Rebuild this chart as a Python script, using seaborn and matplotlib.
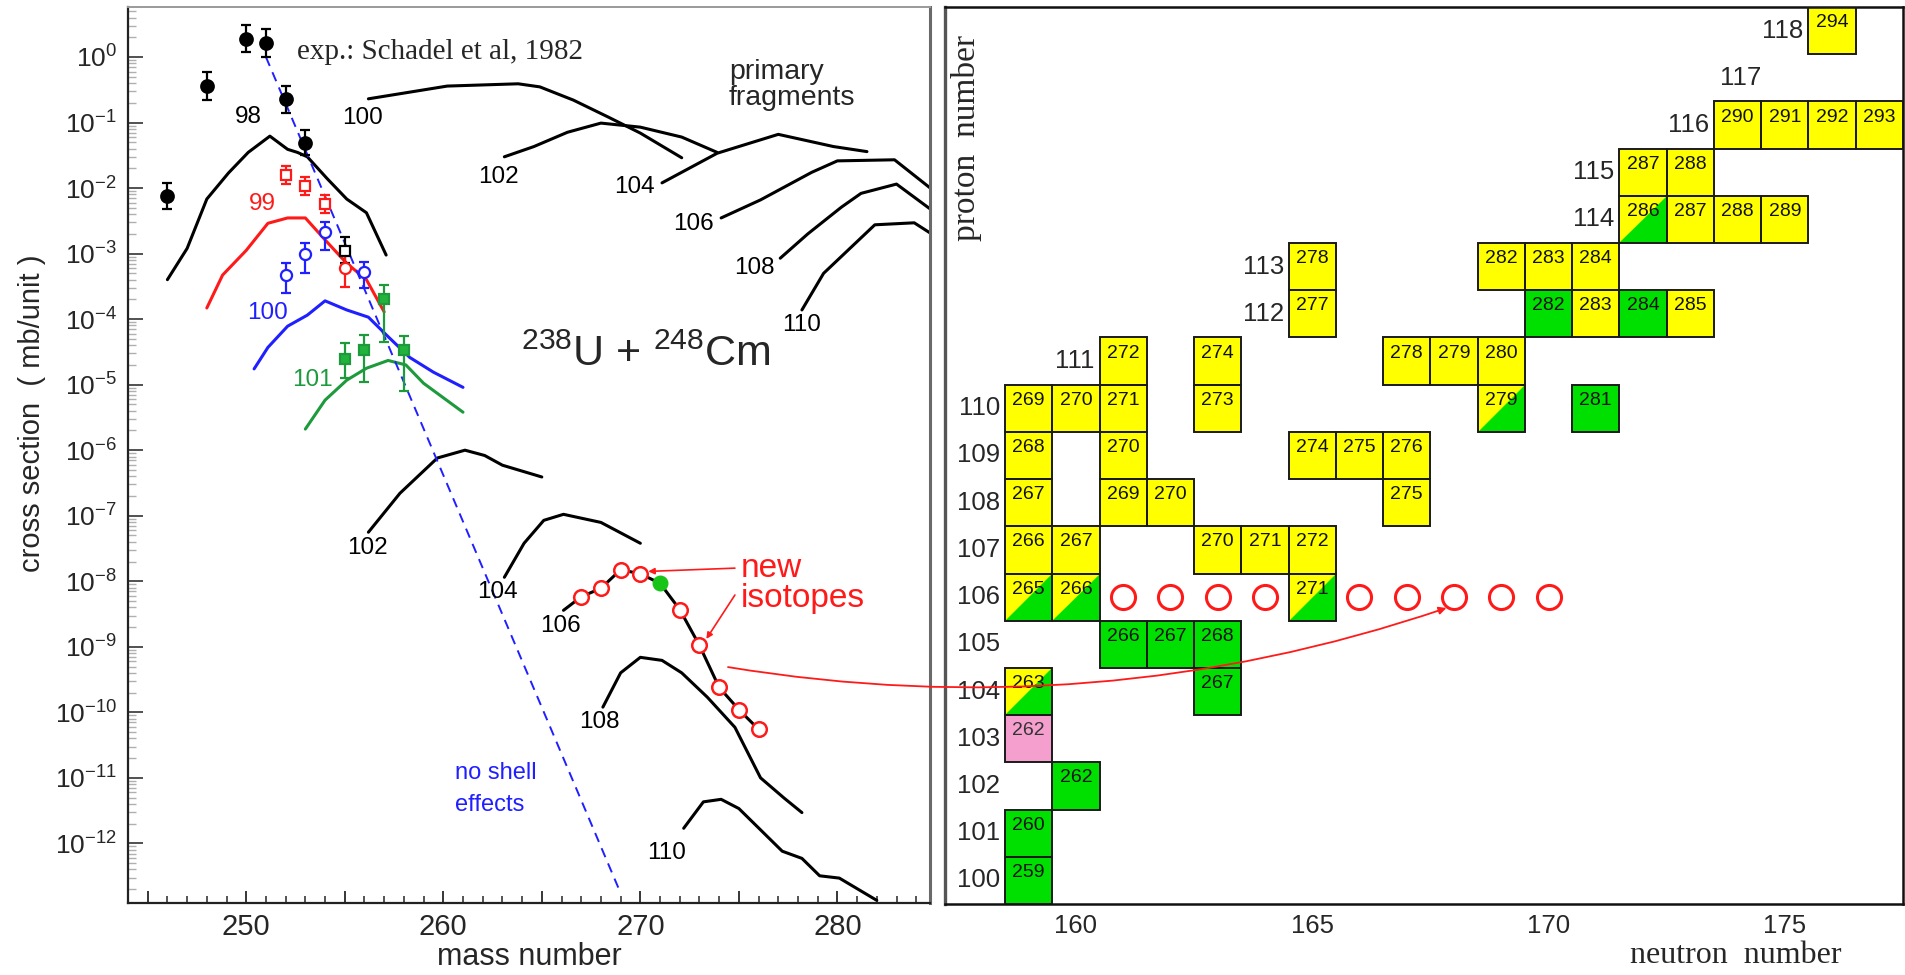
import numpy as np
import matplotlib
matplotlib.use('Agg')
import matplotlib.pyplot as plt
import seaborn as sns
from matplotlib.patches import Rectangle, Polygon, ConnectionPatch
from matplotlib.ticker import (MultipleLocator, LogLocator, FixedLocator, FuncFormatter,
                               NullFormatter)

# ---------------- left panel: cross sections (mb/unit) vs mass number ----------------
# primary fragments (upper curves)
prim100_A = [256.2, 260.2, 263.8, 264.9, 266.6, 268.4, 270.0, 272.1]
prim100_s = [0.23, 0.36, 0.39, 0.35, 0.22, 0.12, 0.069, 0.029]
prim102_A = [263.1, 264.6, 266.3, 268.0, 270.0, 272.1, 273.9]
prim102_s = [0.030, 0.043, 0.071, 0.098, 0.085, 0.060, 0.035]
prim104_A = [271.1, 273.9, 277.0, 279.8, 281.5]
prim104_s = [0.012, 0.034, 0.066, 0.043, 0.036]
prim106_A = [274.1, 276.1, 278.7, 280.0, 282.9, 285.5]
prim106_s = [3.5e-3, 6.6e-3, 1.74e-2, 2.6e-2, 2.7e-2, 6.5e-3]
prim108_A = [277.1, 278.5, 280.2, 281.2, 283.0, 285.5]
prim108_s = [8.5e-4, 2.0e-3, 5.1e-3, 8.3e-3, 1.15e-2, 3.2e-3]
prim110_A = [278.2, 279.3, 281.9, 283.9, 285.5]
prim110_s = [1.38e-4, 5.0e-4, 2.75e-3, 2.95e-3, 1.45e-3]

# calculated surviving products
z98_A = [246, 247, 248, 249.1, 250.1, 251.2, 252.1, 252.6, 253.1, 254.1, 255.1, 256.1, 257.1]
z98_s = [4.0e-4, 1.2e-3, 6.8e-3, 1.7e-2, 3.5e-2, 6.2e-2, 3.9e-2, 3.5e-2, 3.0e-2, 1.4e-2, 6.8e-3, 4.2e-3, 9.5e-4]
z99_A = [248.0, 248.8, 250.0, 251.1, 252.1, 253.0, 254.0, 255.1, 256.1, 257.0]
z99_s = [1.48e-4, 4.7e-4, 1.12e-3, 2.9e-3, 3.5e-3, 3.5e-3, 1.62e-3, 7.1e-4, 4.0e-4, 1.29e-4]
z100_A = [250.4, 251.1, 252.1, 253.1, 254.0, 255.1, 256.2, 257.2, 258.3, 259.5, 261.0]
z100_s = [1.74e-5, 3.7e-5, 7.8e-5, 1.15e-4, 1.9e-4, 1.38e-4, 1.07e-4, 5.4e-5, 2.6e-5, 1.55e-5, 9.1e-6]
z101_A = [253.0, 254.0, 255.1, 256.1, 257.2, 258.1, 259.0, 261.0]
z101_s = [2.1e-6, 5.8e-6, 1.17e-5, 1.78e-5, 2.34e-5, 2.0e-5, 1.05e-5, 3.8e-6]
z102_A = [256.2, 257.8, 259.7, 261.1, 262.1, 263.0, 265.0]
z102_s = [5.6e-8, 2.2e-7, 7.6e-7, 1.0e-6, 8.3e-7, 5.9e-7, 3.9e-7]
z104_A = [263.1, 264.1, 265.1, 266.1, 268.0, 270.0]
z104_s = [1.15e-8, 3.8e-8, 8.5e-8, 1.05e-7, 7.9e-8, 3.8e-8]
z106_A = [266.1, 267, 268, 269, 270, 271, 272, 273, 274, 275, 276]
z106_s = [3.6e-9, 5.8e-9, 7.8e-9, 1.5e-8, 1.3e-8, 9.3e-9, 3.7e-9, 1.05e-9, 2.4e-10, 1.1e-10, 5.5e-11]
z108_A = [268.1, 269.0, 270.0, 271.1, 272.1, 273.4, 274.8, 276.1, 277.3, 278.2]
z108_s = [1.2e-10, 4.0e-10, 6.9e-10, 6.2e-10, 4.0e-10, 1.7e-10, 5.9e-11, 1.0e-11, 4.9e-12, 2.95e-12]
z110_A = [272.2, 273.2, 274.1, 275.0, 277.2, 278.2, 279.1, 280.1, 282.0]
z110_s = [1.7e-12, 4.3e-12, 4.7e-12, 3.4e-12, 7.6e-13, 5.9e-13, 3.2e-13, 2.95e-13, 1.35e-13]

# new isotopes on the Z=106 curve (known one filled green)
new_A = [267, 268, 269, 270, 272, 273, 274, 275, 276]
new_s = [5.8e-9, 7.8e-9, 1.5e-8, 1.3e-8, 3.7e-9, 1.05e-9, 2.4e-10, 1.1e-10, 5.5e-11]
known_A = [271]
known_s = [9.3e-9]

# no shell effects
noshell_A = [251, 269]
noshell_s = [1.0, 1.74e-13]

# experiment, Schadel et al 1982
exp98_A = [246, 248, 250, 251, 252, 253]
exp98_s = [7.6e-3, 0.36, 1.86, 1.62, 0.23, 0.048]
exp98_lo = [4.8e-3, 0.22, 1.2, 1.0, 0.138, 0.032]
exp98_hi = [1.2e-2, 0.59, 3.1, 2.7, 0.36, 0.078]
exp98o_A = [255]
exp98o_s = [1.1e-3]
exp98o_lo = [7.1e-4]
exp98o_hi = [1.78e-3]
exp99_A = [252, 253, 254]
exp99_s = [0.016, 0.0107, 5.7e-3]
exp99_lo = [0.0117, 7.8e-3, 4.2e-3]
exp99_hi = [0.022, 0.0148, 7.8e-3]
exp99o_A = [255]
exp99o_s = [6.0e-4]
exp99o_lo = [3.1e-4]
exp99o_hi = [9.5e-4]
exp100_A = [252, 253, 254, 256]
exp100_s = [4.7e-4, 1.0e-3, 2.1e-3, 5.2e-4]
exp100_lo = [2.5e-4, 5.0e-4, 1.12e-3, 2.95e-4]
exp100_hi = [7.1e-4, 1.45e-3, 3.0e-3, 7.4e-4]
exp101_A = [255, 256, 257, 258]
exp101_s = [2.5e-5, 3.4e-5, 2.0e-4, 3.4e-5]
exp101_lo = [1.26e-5, 1.1e-5, 4.5e-5, 7.9e-6]
exp101_hi = [4.3e-5, 5.8e-5, 3.3e-4, 5.5e-5]

decades = list(range(-12, 1))

# ---------------- right panel: chart of nuclides ----------------
cell_Z = [100, 101, 102, 103, 104, 104,
          105, 105, 105,
          106, 106, 106,
          107, 107, 107, 107, 107,
          108, 108, 108, 108,
          109, 109, 109, 109, 109,
          110, 110, 110, 110, 110, 110,
          111, 111, 111, 111, 111,
          112, 112, 112, 112, 112,
          113, 113, 113, 113,
          114, 114, 114, 114,
          115, 115,
          116, 116, 116, 116,
          118]
cell_N = [159, 159, 160, 159, 159, 163,
          161, 162, 163,
          159, 160, 165,
          159, 160, 163, 164, 165,
          159, 161, 162, 167,
          159, 161, 165, 166, 167,
          159, 160, 161, 163, 169, 171,
          161, 163, 167, 168, 169,
          165, 170, 171, 172, 173,
          165, 169, 170, 171,
          172, 173, 174, 175,
          172, 173,
          174, 175, 176, 177,
          176]
cell_kind = ['g', 'g', 'g', 'p', 'd', 'g',
             'g', 'g', 'g',
             'd', 'd', 'd',
             'y', 'y', 'y', 'y', 'y',
             'y', 'y', 'y', 'y',
             'y', 'y', 'y', 'y', 'y',
             'y', 'y', 'y', 'y', 'd', 'g',
             'y', 'y', 'y', 'y', 'y',
             'y', 'g', 'y', 'g', 'y',
             'y', 'y', 'y', 'y',
             'd', 'y', 'y', 'y',
             'y', 'y',
             'y', 'y', 'y', 'y',
             'y']
new_N = [161, 162, 163, 164, 166, 167, 168, 169, 170]
new_Z = [106] * len(new_N)
row_Z = list(range(100, 119))
n_ticks = [160, 165, 170, 175]

# ---------------- style ----------------
sns.set_style('ticks')
plt.rcParams['font.family'] = ['Liberation Sans', 'DejaVu Sans']
plt.rcParams['mathtext.fontset'] = 'custom'
plt.rcParams['mathtext.rm'] = 'Liberation Sans'
plt.rcParams['mathtext.it'] = 'Liberation Sans:italic'
plt.rcParams['mathtext.bf'] = 'Liberation Sans:bold'
SERIF = ['Liberation Serif', 'DejaVu Serif']

RED = '#ff1a1a'
BLUE = '#1f1fff'
GREEN = '#1d9a3c'
YEL = '#ffff00'
GRN = '#00e000'
PINK = '#f59fcf'

fig = plt.figure(figsize=(19.05, 9.75), dpi=100)
axL = fig.add_axes([128 / 1905, 72 / 975, 802 / 1905, 896 / 975])
axR = fig.add_axes([945 / 1905, 71 / 975, 958 / 1905, 897 / 975])

# ---------------- left panel ----------------
axL.set_yscale('log')


def curve(a, s, color, lw=2.2, **kw):
    sns.lineplot(x=a, y=s, ax=axL, color=color, lw=lw, sort=False,
                 estimator=None, legend=False, **kw)


for a, s in [(prim100_A, prim100_s), (prim102_A, prim102_s), (prim104_A, prim104_s),
             (prim106_A, prim106_s), (prim108_A, prim108_s), (prim110_A, prim110_s),
             (z98_A, z98_s), (z102_A, z102_s), (z104_A, z104_s),
             (z106_A, z106_s), (z108_A, z108_s), (z110_A, z110_s)]:
    curve(a, s, 'black')
curve(z99_A, z99_s, RED)
curve(z100_A, z100_s, BLUE)
curve(z101_A, z101_s, GREEN)
curve(noshell_A, noshell_s, BLUE, lw=1.4, linestyle=(0, (5, 3.5)))


def errpts(a, s, lo, hi, color, marker, ms, mfc):
    s = np.array(s)
    yerr = [s - np.array(lo), np.array(hi) - s]
    axL.errorbar(a, s, yerr=yerr, fmt=marker, color=color, ms=ms, mfc=mfc, mec=color,
                 mew=1.6, elinewidth=1.6, capsize=3.5, capthick=1.6, zorder=5)


errpts(exp98_A, exp98_s, exp98_lo, exp98_hi, 'black', 'o', 9, 'black')
errpts(exp98o_A, exp98o_s, exp98o_lo, exp98o_hi, 'black', 's', 7, 'white')
errpts(exp99_A, exp99_s, exp99_lo, exp99_hi, RED, 's', 7, 'white')
errpts(exp99o_A, exp99o_s, exp99o_lo, exp99o_hi, RED, 'o', 8, 'white')
errpts(exp100_A, exp100_s, exp100_lo, exp100_hi, BLUE, 'o', 8, 'white')
errpts(exp101_A, exp101_s, exp101_lo, exp101_hi, GREEN, 's', 7, '#22b33c')

sns.scatterplot(x=new_A, y=new_s, ax=axL, color='white', edgecolor=RED, linewidth=1.8,
                s=110, marker='o', zorder=6, legend=False)
sns.scatterplot(x=known_A, y=known_s, ax=axL, color='#19c419', edgecolor='#19c419',
                linewidth=1.0, s=110, marker='o', zorder=6, legend=False)

axL.set_xlim(244, 284.7)
axL.set_ylim(10 ** -12.91, 10 ** 0.763)
axL.xaxis.set_major_locator(MultipleLocator(5))
axL.xaxis.set_minor_locator(MultipleLocator(1))
axL.xaxis.set_major_formatter(FuncFormatter(lambda v, p: '%d' % v if round(v) % 10 == 0 else ''))
axL.yaxis.set_major_locator(FixedLocator([10.0 ** d for d in decades]))
axL.yaxis.set_minor_locator(LogLocator(base=10, subs=np.arange(2, 10), numticks=300))
axL.yaxis.set_minor_formatter(NullFormatter())
axL.yaxis.set_major_formatter(FuncFormatter(lambda v, p: r'$10^{%d}$' % round(np.log10(v))))
axL.tick_params(axis='x', which='major', direction='in', length=9, width=1.3,
                labelsize=21, pad=7, top=False)
axL.tick_params(axis='x', which='minor', direction='in', length=5, width=1.1, top=False)
axL.tick_params(axis='y', which='major', direction='in', length=11, width=1.2,
                labelsize=19, pad=8, right=False, color='#333333')
axL.tick_params(axis='y', which='minor', direction='in', length=6, width=1.0,
                color='#b0b0b0', right=False)
for side in ['left', 'bottom']:
    axL.spines[side].set_linewidth(1.6)
    axL.spines[side].set_color('#222222')
axL.spines['top'].set_color('#9a9a9a')
axL.spines['top'].set_linewidth(1.4)
axL.spines['right'].set_color('#6a6a6a')
axL.spines['right'].set_linewidth(2.2)

axL.set_xlabel('mass number', fontsize=22, labelpad=1)
axL.set_ylabel('cross section  ( mb/unit )', fontsize=21)
axL.yaxis.set_label_coords(-0.102, 0.547)

# curve labels
lab = dict(fontsize=17.5, ha='center', va='center')
axL.text(250.1, 10 ** -0.92, '98', color='black', **lab)
axL.text(250.8, 10 ** -2.24, '99', color=RED, **lab)
axL.text(251.1, 10 ** -3.91, '100', color=BLUE, **lab)
axL.text(253.35, 10 ** -4.93, '101', color=GREEN, **lab)
axL.text(255.9, 10 ** -0.93, '100', color='black', **lab)
axL.text(262.8, 10 ** -1.83, '102', color='black', **lab)
axL.text(269.7, 10 ** -1.98, '104', color='black', **lab)
axL.text(272.7, 10 ** -2.55, '106', color='black', **lab)
axL.text(275.8, 10 ** -3.22, '108', color='black', **lab)
axL.text(278.2, 10 ** -4.09, '110', color='black', **lab)
axL.text(256.15, 10 ** -7.50, '102', color='black', **lab)
axL.text(262.76, 10 ** -8.17, '104', color='black', **lab)
axL.text(265.96, 10 ** -8.69, '106', color='black', **lab)
axL.text(267.9, 10 ** -10.15, '108', color='black', **lab)
axL.text(271.35, 10 ** -12.14, '110', color='black', **lab)

axL.text(274.5, 10 ** -0.43, 'primary\nfragments', fontsize=20.5, ha='left', va='center',
         linespacing=1.0)
axL.text(252.6, 10 ** 0.08, 'exp.: Schadel et al, 1982', fontsize=21, ha='left',
         va='center', family=SERIF)
axL.text(270.3, 10 ** -4.55, r'$^{238}$U + $^{248}$Cm', fontsize=31, ha='center', va='center')
axL.text(260.6, 10 ** -10.93, 'no shell', fontsize=17, color=BLUE, ha='left', va='center')
axL.text(260.6, 10 ** -11.42, 'effects', fontsize=17, color=BLUE, ha='left', va='center')
axL.text(275.1, 10 ** -7.94, 'new', fontsize=24, color=RED, ha='left', va='baseline')
axL.text(275.1, 10 ** -8.40, 'isotopes', fontsize=24, color=RED, ha='left', va='baseline')

arr = dict(arrowstyle='-|>', color=RED, lw=1.2, mutation_scale=9, shrinkA=0, shrinkB=0)
axL.annotate('', xy=(270.4, 10 ** -7.85), xytext=(274.8, 10 ** -7.80), arrowprops=arr)
axL.annotate('', xy=(273.35, 10 ** -8.88), xytext=(274.8, 10 ** -8.21), arrowprops=arr)

# ---------------- right panel ----------------
fills = {'y': YEL, 'g': GRN, 'p': PINK}
for z, n, k in zip(cell_Z, cell_N, cell_kind):
    x0, y0 = n - 0.5, z - 0.5
    if k == 'd':
        axR.add_patch(Rectangle((x0, y0), 1, 1, facecolor=YEL, edgecolor='none', zorder=2))
        axR.add_patch(Polygon([(x0, y0), (x0 + 1, y0), (x0 + 1, y0 + 1)], closed=True,
                              facecolor=GRN, edgecolor='none', zorder=2))
    else:
        axR.add_patch(Rectangle((x0, y0), 1, 1, facecolor=fills[k], edgecolor='none', zorder=2))
    axR.add_patch(Rectangle((x0, y0), 1, 1, facecolor='none', edgecolor='#1a1a1a',
                            lw=1.4, zorder=3))
    axR.text(n, z + 0.17, str(z + n), fontsize=14, ha='center', va='center', zorder=4,
             color='#333333' if k == 'p' else '#111111')

sns.scatterplot(x=new_N, y=new_Z, ax=axR, color='white', edgecolor=RED, linewidth=2.2,
                s=300, marker='o', zorder=5, legend=False)

# proton number labels next to the rows
for z in row_Z:
    if z <= 110:
        xl = 158.4
    elif z == 117:
        xl = 174.5
    else:
        xl = min(n for zz, n in zip(cell_Z, cell_N) if zz == z) - 0.6
    axR.text(xl, z, str(z), fontsize=18.5, ha='right', va='center')

axR.set_xlim(157.23, 177.5)
axR.set_ylim(99.5, 118.5)
axR.set_xticks(n_ticks)
axR.set_yticks([])
axR.tick_params(axis='x', length=0, labelsize=18.5, pad=7)
for side in ['top', 'right', 'bottom']:
    axR.spines[side].set_color('#111111')
    axR.spines[side].set_linewidth(1.8)
axR.spines['left'].set_color('#555555')
axR.spines['left'].set_linewidth(2.4)
axR.set_xlabel('neutron  number', fontsize=23, family=SERIF)
axR.xaxis.set_label_coords(0.825, -0.041)
axR.set_ylabel('proton  number', fontsize=24, family=SERIF)
axR.yaxis.set_label_coords(0.0386, 0.854)

# curved arrow from the chart to the nuclide map
con = ConnectionPatch(xyA=(274.45, 10 ** -9.31), coordsA=axL.transData,
                      xyB=(167.84, 105.77), coordsB=axR.transData,
                      arrowstyle='-|>', connectionstyle='arc3,rad=0.125',
                      color=RED, lw=1.3, mutation_scale=11, shrinkA=0, shrinkB=0, zorder=10)
fig.add_artist(con)

fig.savefig('out.png', dpi=100)
